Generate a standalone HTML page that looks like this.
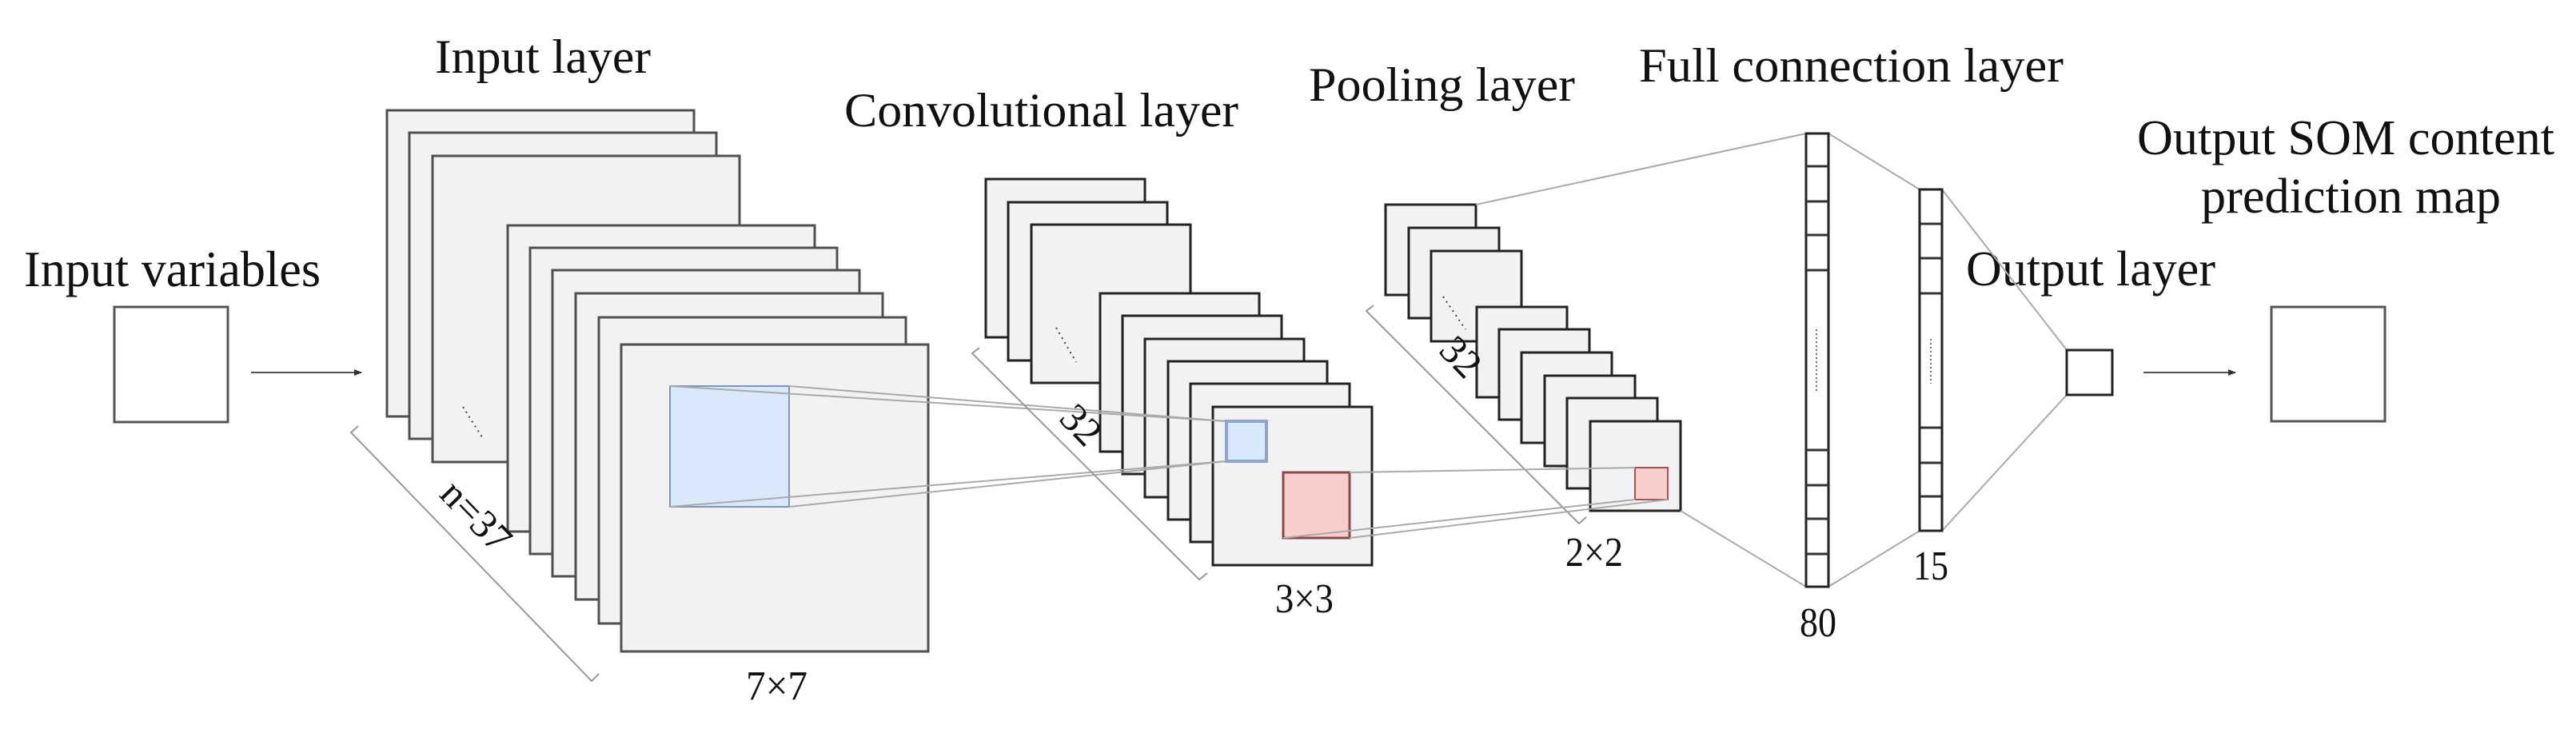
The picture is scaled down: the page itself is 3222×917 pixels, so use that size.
<!DOCTYPE html>
<html><head><meta charset="utf-8"><style>
html,body{margin:0;padding:0;background:#fff;}
svg{display:block;}
text{font-family:"Liberation Serif",serif;fill:#111;}
</style></head><body>
<svg width="3222" height="917" viewBox="0 0 3222 917" xmlns="http://www.w3.org/2000/svg">
<defs>
<marker id="ah" markerWidth="10" markerHeight="10" refX="9" refY="5" orient="auto" markerUnits="userSpaceOnUse">
<path d="M0,1 L10,5 L0,9 z" fill="#333"/></marker>
</defs>
<!-- labels -->
<text x="30" y="358" font-size="64" textLength="371" lengthAdjust="spacingAndGlyphs">Input variables</text>
<text x="544" y="91" font-size="60" textLength="270" lengthAdjust="spacingAndGlyphs">Input layer</text>
<text x="1056" y="158" font-size="60" textLength="493" lengthAdjust="spacingAndGlyphs">Convolutional layer</text>
<text x="1637" y="126" font-size="60" textLength="333" lengthAdjust="spacingAndGlyphs">Pooling layer</text>
<text x="2050" y="102" font-size="60" textLength="531" lengthAdjust="spacingAndGlyphs">Full connection layer</text>
<text x="2673" y="193" font-size="62" textLength="522" lengthAdjust="spacingAndGlyphs">Output SOM content</text>
<text x="2753" y="266" font-size="62" textLength="375" lengthAdjust="spacingAndGlyphs">prediction map</text>
<text x="2459" y="357" font-size="62" textLength="312" lengthAdjust="spacingAndGlyphs">Output layer</text>

<!-- input box + arrow -->
<rect x="143" y="384" width="142" height="144" fill="#fff" stroke="#555" stroke-width="3"/>
<line x1="314" y1="466" x2="452" y2="466" stroke="#555" stroke-width="2" marker-end="url(#ah)"/>

<!-- input stack -->
<g fill="#f2f2f4" stroke="#505050" stroke-width="3">
<rect x="484" y="138" width="384" height="383"/>
<rect x="512" y="166" width="384" height="383"/>
<rect x="541" y="195" width="384" height="383"/>
<rect x="635" y="282" width="384" height="383"/>
<rect x="663" y="310" width="384" height="383"/>
<rect x="691" y="338" width="384" height="383"/>
<rect x="720" y="367" width="384" height="383"/>
<rect x="749" y="397" width="384" height="383"/>
<rect x="777" y="431" width="384" height="384"/>
</g>
<line x1="579" y1="509" x2="605" y2="550" stroke="#444" stroke-width="2" stroke-dasharray="2,5"/>
<rect x="838" y="483" width="149" height="151" fill="#dae8fc" stroke="#7f95bb" stroke-width="2"/>
<!-- bracket n=37 -->
<polyline points="448,533 439,541 740,852 749,843" fill="none" stroke="#999" stroke-width="2"/>
<text x="0" y="0" font-size="50" transform="translate(548,620) rotate(46)">n=37</text>
<text x="933" y="875" font-size="52" textLength="77" lengthAdjust="spacingAndGlyphs">7×7</text>

<!-- conv stack -->
<g fill="#f2f2f4" stroke="#222" stroke-width="3">
<rect x="1233" y="224" width="199" height="198"/>
<rect x="1261" y="253" width="199" height="198"/>
<rect x="1290" y="281" width="199" height="198"/>
<rect x="1376" y="367" width="199" height="198"/>
<rect x="1404" y="395" width="199" height="198"/>
<rect x="1432" y="424" width="199" height="198"/>
<rect x="1461" y="452" width="199" height="198"/>
<rect x="1489" y="480" width="199" height="198"/>
<rect x="1517" y="509" width="199" height="198"/>
</g>
<line x1="1321" y1="410" x2="1346" y2="453" stroke="#444" stroke-width="2" stroke-dasharray="2,5"/>
<!-- lines big blue -> small blue -->
<g stroke="#aaa" stroke-width="2">
<line x1="838" y1="483" x2="1534" y2="527"/>
<line x1="987" y1="483" x2="1534" y2="527"/>
<line x1="838" y1="634" x2="1534" y2="577"/>
<line x1="987" y1="634" x2="1534" y2="577"/>
</g>
<rect x="1534" y="527" width="50" height="50" fill="#dae8fc" stroke="#8fa5c8" stroke-width="4"/>
<polyline points="1225,435 1216,442 1500,725 1510,717" fill="none" stroke="#999" stroke-width="2"/>
<text x="0" y="0" font-size="50" transform="translate(1323,525) rotate(46)">32</text>
<text x="1595" y="766" font-size="52" textLength="73" lengthAdjust="spacingAndGlyphs">3×3</text>

<!-- pool stack -->
<g fill="#f2f2f4" stroke="#222" stroke-width="3">
<rect x="1733" y="256" width="113" height="113"/>
<rect x="1762" y="285" width="113" height="113"/>
<rect x="1790" y="314" width="113" height="113"/>
<rect x="1847" y="384" width="113" height="113"/>
<rect x="1875" y="412" width="113" height="113"/>
<rect x="1903" y="441" width="113" height="113"/>
<rect x="1932" y="470" width="113" height="113"/>
<rect x="1960" y="498" width="113" height="113"/>
<rect x="1989" y="527" width="113" height="112"/>
</g>
<line x1="1805" y1="371" x2="1833" y2="412" stroke="#444" stroke-width="2" stroke-dasharray="2,5"/>
<polyline points="1718,382 1709,389 1975,655 1984,647" fill="none" stroke="#999" stroke-width="2"/>
<text x="0" y="0" font-size="50" transform="translate(1798,440) rotate(46)">32</text>
<text x="1958" y="708" font-size="52" textLength="72" lengthAdjust="spacingAndGlyphs">2×2</text>

<!-- red squares and links -->
<rect x="1605" y="591" width="83" height="82" fill="#f8cecc" stroke="#8a4a4a" stroke-width="3"/>
<rect x="2045" y="585" width="41" height="40" fill="#f8cecc" stroke="#a05555" stroke-width="2"/>
<g stroke="#aaa" stroke-width="2">
<line x1="1688" y1="591" x2="2045" y2="585"/>
<line x1="1605" y1="673" x2="2045" y2="625"/>
<line x1="1688" y1="673" x2="2086" y2="625"/>
<line x1="1846" y1="256" x2="2259" y2="167"/>
<line x1="2102" y1="639" x2="2259" y2="734"/>
<line x1="2287" y1="167" x2="2401" y2="237"/>
<line x1="2287" y1="734" x2="2401" y2="664"/>
<line x1="2429" y1="237" x2="2585" y2="438"/>
<line x1="2429" y1="664" x2="2585" y2="494"/>
</g>

<!-- FC 80 -->
<rect x="2259" y="167" width="28" height="567" fill="#fff" stroke="#222" stroke-width="3"/>
<g stroke="#333" stroke-width="3">
<line x1="2259" y1="208" x2="2287" y2="208"/><line x1="2259" y1="252" x2="2287" y2="252"/>
<line x1="2259" y1="294" x2="2287" y2="294"/><line x1="2259" y1="338" x2="2287" y2="338"/>
<line x1="2259" y1="563" x2="2287" y2="563"/><line x1="2259" y1="607" x2="2287" y2="607"/>
<line x1="2259" y1="649" x2="2287" y2="649"/><line x1="2259" y1="693" x2="2287" y2="693"/>
<line x1="2401" y1="280" x2="2429" y2="280"/><line x1="2401" y1="323" x2="2429" y2="323"/>
<line x1="2401" y1="367" x2="2429" y2="367"/><line x1="2401" y1="535" x2="2429" y2="535"/>
<line x1="2401" y1="579" x2="2429" y2="579"/><line x1="2401" y1="621" x2="2429" y2="621"/>
</g>
<line x1="2272" y1="412" x2="2272" y2="491" stroke="#444" stroke-width="1.5" stroke-dasharray="2,3"/>
<text x="2251" y="796" font-size="52" textLength="46" lengthAdjust="spacingAndGlyphs">80</text>
<!-- FC 15 -->
<rect x="2401" y="237" width="28" height="427" fill="none" stroke="#222" stroke-width="3"/>
<line x1="2415" y1="424" x2="2415" y2="480" stroke="#444" stroke-width="1.5" stroke-dasharray="2,3"/>
<text x="2393" y="725" font-size="52" textLength="44" lengthAdjust="spacingAndGlyphs">15</text>

<!-- output -->
<rect x="2585" y="438" width="57" height="56" fill="#fff" stroke="#222" stroke-width="3"/>
<line x1="2681" y1="466" x2="2796" y2="466" stroke="#555" stroke-width="2" marker-end="url(#ah)"/>
<rect x="2841" y="384" width="142" height="143" fill="#fff" stroke="#555" stroke-width="3"/>
</svg>
</body></html>
